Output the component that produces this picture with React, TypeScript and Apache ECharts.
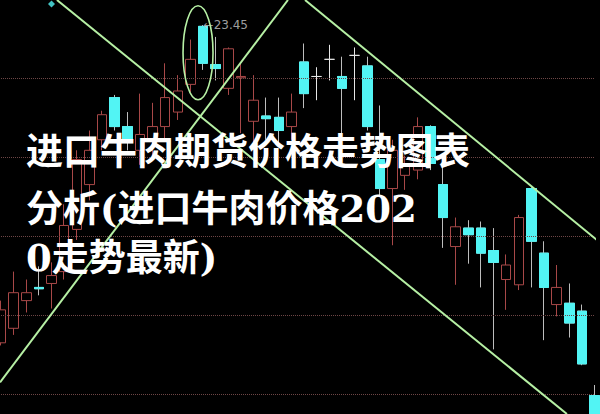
import React, { useEffect, useRef } from "react";
import * as echarts from "echarts";

// 48 daily candles (first one half hidden at the left edge)
const categories = [
  "d01", "d02", "d03", "d04", "d05", "d06", "d07", "d08", "d09", "d10", "d11", "d12",
  "d13", "d14", "d15", "d16", "d17", "d18", "d19", "d20", "d21", "d22", "d23", "d24",
  "d25", "d26", "d27", "d28", "d29", "d30", "d31", "d32", "d33", "d34", "d35", "d36",
  "d37", "d38", "d39", "d40", "d41", "d42", "d43", "d44", "d45", "d46", "d47", "d48",
];
const openPrices = [
  21.04, 21.15, 21.36, 21.46, 21.49, 21.58, 21.9, 22.24, 22.58, 22.9, 22.68, 22.5,
  22.58, 22.68, 22.79, 23.0, 23.44, 23.15, 22.97, 23.05, 22.72, 22.76, 22.75, 22.68,
  23.17, 23.06, 23.19, 23.06, 23.22, 23.14, 22.43, 22.21, 22.31, 22.35, 22.68, 22.24,
  21.77, 21.91, 21.91, 21.74, 21.52, 21.48, 22.21, 21.72, 21.33, 21.34, 21.28, 20.64,
];
const closePrices = [
  21.29, 21.42, 21.42, 21.45, 21.55, 21.93, 22.43, 22.5, 22.77, 22.68, 22.56, 22.62,
  22.68, 22.9, 22.95, 23.19, 23.16, 23.12, 23.27, 23.06, 22.88, 22.74, 22.65, 22.79,
  22.93, 23.06, 23.19, 22.97, 23.22, 22.68, 22.21, 22.5, 22.39, 22.68, 22.4, 21.99,
  21.92, 21.86, 21.72, 21.65, 21.63, 21.99, 21.81, 21.46, 21.46, 21.19, 20.88, 20.46,
];
const lowPrices = [
  21.02, 21.1, 21.27, 21.4, 21.3, 21.52, 21.82, 22.12, 22.5, 22.65, 22.5, 22.39,
  22.46, 22.58, 22.73, 22.94, 23.11, 23.03, 22.92, 22.63, 22.56, 22.58, 22.54, 22.58,
  22.82, 22.88, 23.03, 22.63, 22.88, 22.65, 22.16, 21.78, 22.2, 22.28, 22.35, 21.76,
  21.48, 21.64, 21.46, 20.99, 21.29, 21.44, 21.46, 21.06, 21.24, 21.08, 20.87, 20.42,
];
const highPrices = [
  21.36, 21.58, 21.52, 21.62, 21.65, 22.09, 22.5, 22.65, 22.8, 22.92, 22.79, 22.93,
  22.86, 23.16, 23.07, 23.34, 23.45, 23.36, 23.28, 23.16, 23.07, 22.9, 22.9, 22.93,
  23.31, 23.13, 23.3, 23.21, 23.28, 23.21, 22.84, 22.58, 22.46, 22.75, 22.69, 22.39,
  21.99, 21.97, 21.96, 21.91, 21.71, 22.01, 22.22, 21.81, 21.63, 21.49, 21.33, 20.72,
];

const priceMin = 20.5;
const priceMax = 23.64;
const gridLevels = [23.05, 22.45, 21.85, 21.25, 20.65];

// trend lines in (candle position, price); candle positions run from -8 to 39
const positionMin = -8;
const positionMax = 39;
const trendLineA = [[-3.57, 23.64], [36.81, 20.5]];
const trendLineB = [[-8.08, 20.74], [14.72, 23.64]];
const trendLineC = [[16.07, 23.64], [39.43, 21.8]];
const ellipseCenter = [7.6, 23.24];
const diamondMarker = [[4, 23.61]];

const titleLines = ["进口牛肉期货价格走势图表", "分析(进口牛肉价格202", "0走势最新)"];

const UP = "#a84848";
const DOWN = "#52f4f4";
const DOWN_WICK = "#bdbdbd";
const DOJI = "#e6e6e6";
const TREND = "#b6f0a4";

export default function App() {
  const ref = useRef<HTMLDivElement>(null);

  useEffect(() => {
    if (!ref.current) return;
    const chart = echarts.init(ref.current, undefined, { renderer: "svg" });

    const kData = categories.map((_, i) => {
      const o = openPrices[i];
      const c = closePrices[i];
      const item: any = { value: [o, c, lowPrices[i], highPrices[i]] };
      if (o === c) {
        item.itemStyle = { color: DOJI, color0: DOJI, borderColor: DOJI, borderColor0: DOJI };
      }
      return item;
    });
    const bodyData = categories.map((_, i) =>
      closePrices[i] < openPrices[i]
        ? [openPrices[i], closePrices[i], closePrices[i], openPrices[i]]
        : "-"
    );

    let peakIndex = 0;
    highPrices.forEach((h, i) => {
      if (h > highPrices[peakIndex]) peakIndex = i;
    });

    const trendSeries = [trendLineA, trendLineB, trendLineC].map((d, n) => ({
      type: "line",
      name: "trend" + n,
      xAxisIndex: 1,
      yAxisIndex: 0,
      data: d,
      symbol: "none",
      clip: false,
      silent: true,
      lineStyle: { color: TREND, width: 2 },
      z: 5,
    }));

    chart.setOption({
      animation: false,
      backgroundColor: "#000",
      grid: { left: 1, right: 5.4, top: 0, bottom: 0 },
      xAxis: [
        {
          type: "category",
          data: categories,
          boundaryGap: false,
          show: false,
        },
        {
          type: "value",
          min: positionMin,
          max: positionMax,
          show: false,
        },
      ],
      yAxis: {
        type: "value",
        min: priceMin,
        max: priceMax,
        show: false,
        splitLine: { show: false },
      },
      series: [
        {
          type: "candlestick",
          name: "k",
          data: kData,
          barWidth: 10,
          clip: false,
          itemStyle: {
            color: "rgba(0,0,0,0)",
            color0: DOWN,
            borderColor: UP,
            borderColor0: DOWN_WICK,
            borderWidth: 1,
          },
          markLine: {
            silent: true,
            symbol: ["none", "none"],
            label: { show: false },
            lineStyle: { type: "dotted", color: "#6e4646", width: 1 },
            data: gridLevels.map((v) => ({ yAxis: v })),
          },
          z: 3,
        },
        {
          type: "candlestick",
          name: "body",
          data: bodyData,
          barWidth: 10,
          clip: false,
          itemStyle: {
            color: "rgba(0,0,0,0)",
            color0: DOWN,
            borderColor: UP,
            borderColor0: DOWN,
            borderWidth: 1,
          },
          z: 4,
        },
        ...trendSeries,
        {
          type: "scatter",
          name: "marker",
          data: diamondMarker,
          symbol: "diamond",
          symbolSize: 7,
          itemStyle: { color: DOWN },
          z: 6,
        },
        {
          type: "scatter",
          name: "peak",
          data: [[peakIndex, highPrices[peakIndex]]],
          symbol: "circle",
          symbolSize: 1,
          itemStyle: { color: "rgba(0,0,0,0)" },
          label: {
            show: true,
            position: "right",
            distance: 0,
            formatter: "←" + highPrices[peakIndex].toFixed(2),
            color: "#c8c8c8",
            fontSize: 12,
            fontFamily: "'DejaVu Sans', sans-serif",
          },
          z: 6,
        },
      ],
    });

    const cx = chart.convertToPixel({ xAxisIndex: 1 }, ellipseCenter[0]) as number;
    const cy = chart.convertToPixel({ yAxisIndex: 0 }, ellipseCenter[1]) as number;
    const lineCenters = [152, 209, 258];

    chart.setOption({
      graphic: [
        {
          type: "ellipse",
          shape: { cx, cy, rx: 15, ry: 47 },
          style: { fill: "none", stroke: TREND, lineWidth: 1.6 },
          silent: true,
          z: 20,
        },
        ...titleLines.map((t, i) => ({
          type: "text",
          x: 26,
          y: lineCenters[i],
          z: 100,
          silent: true,
          style: {
            text: t,
            fill: "#ffffff",
            fontSize: 37,
            fontWeight: "bold",
            fontFamily: "'DejaVu Serif', 'Noto Sans CJK SC', serif",
            verticalAlign: "middle",
            align: "left",
          },
        })),
      ],
    });

    return () => chart.dispose();
  }, []);

  return (
    <div
      ref={ref}
      style={{
        position: "fixed",
        left: 0,
        top: 0,
        width: 600,
        height: 414,
        background: "#000",
      }}
    />
  );
}
